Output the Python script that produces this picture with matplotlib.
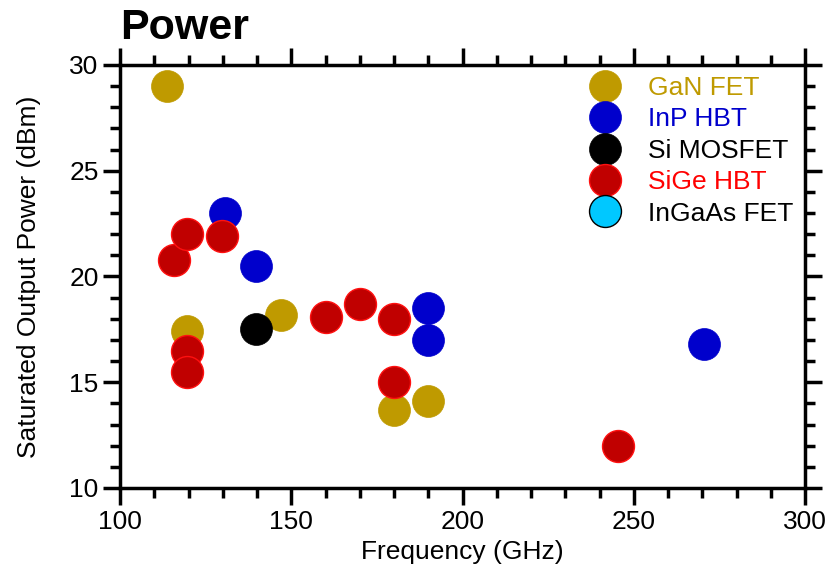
import matplotlib
matplotlib.use("Agg")
import matplotlib.pyplot as plt
from matplotlib.ticker import MultipleLocator

plt.rcParams['font.family'] = ['Liberation Sans', 'DejaVu Sans']

gan_x = [113.7, 119.6, 147, 180, 190]
gan_y = [29.0, 17.4, 18.2, 13.7, 14.1]
inp_x = [130.7, 139.7, 190, 190, 270.5]
inp_y = [23.0, 20.5, 18.5, 17.0, 16.8]
si_x = [139.7]
si_y = [17.5]
sige_x = [115.8, 119.6, 129.8, 119.6, 119.6, 160, 170, 180, 180, 245.5]
sige_y = [20.8, 22.0, 21.9, 16.5, 15.5, 18.1, 18.7, 18.0, 15.0, 12.0]
ingaas_x = []
ingaas_y = []

labels = ['GaN FET', 'InP HBT', 'Si MOSFET', 'SiGe HBT', 'InGaAs FET']
face = ['#BF9A00', '#0000CC', '#000000', '#C00000', '#00C8FF']
edge = ['#BF9A00', '#0000CC', '#000000', '#FF1010', '#000000']
text_col = ['#BF9A00', '#0000CC', '#000000', '#FF0000', '#000000']

fig = plt.figure(figsize=(8.29, 5.70), dpi=100)
ax = fig.add_axes([0.1448, 0.1439, 0.8263, 0.7421])

ms = 23
series = [(gan_x, gan_y), (inp_x, inp_y), (si_x, si_y), (sige_x, sige_y), (ingaas_x, ingaas_y)]
for (xs, ys), lab, fc, ec in zip(series, labels, face, edge):
    ax.plot(xs, ys, 'o', ms=ms, mfc=fc, mec=ec, mew=1.0 if ec != fc else 0.5,
            label=lab, zorder=3)

ax.set_xlim(100, 300)
ax.set_ylim(10, 30)
ax.xaxis.set_major_locator(MultipleLocator(50))
ax.xaxis.set_minor_locator(MultipleLocator(10))
ax.yaxis.set_major_locator(MultipleLocator(5))
ax.yaxis.set_minor_locator(MultipleLocator(1))

for s in ax.spines.values():
    s.set_linewidth(2.5)
ax.tick_params(which='both', direction='out', top=True, right=True, width=2.5,
               labelsize=19, labeltop=False, labelright=False)
ax.tick_params(which='major', length=12)
ax.tick_params(which='minor', length=7)

ax.set_xlabel('Frequency (GHz)', fontsize=19, labelpad=5)
ax.set_ylabel('Saturated Output Power (dBm)', fontsize=19, labelpad=20)
ax.set_title('Power', fontsize=31, fontweight='bold', loc='left', pad=19, x=0.0)

leg = ax.legend(loc='upper left', bbox_to_anchor=(0.666, 1.005), frameon=False,
                fontsize=19, borderpad=0.0, labelspacing=0.28, handletextpad=1.0,
                handlelength=1.2, markerscale=1.0)
for t, c in zip(leg.get_texts(), text_col):
    t.set_color(c)

fig.savefig('out.png', dpi=100)
